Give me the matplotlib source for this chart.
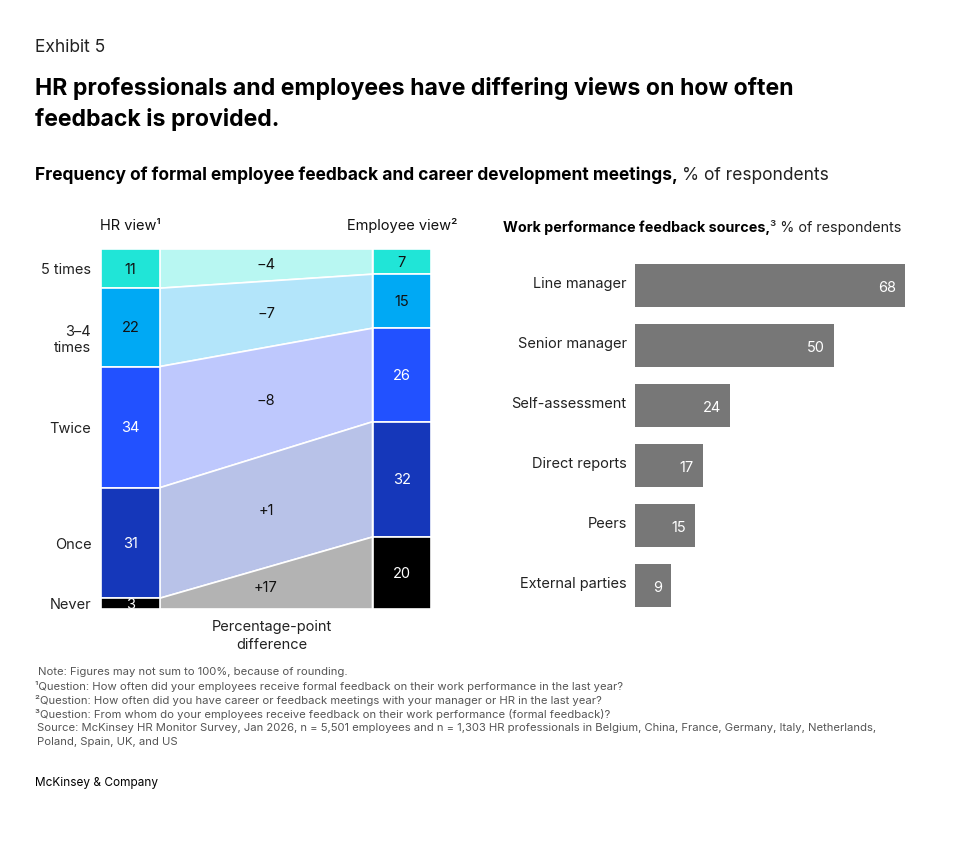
import numpy as np
import matplotlib.pyplot as plt
import matplotlib.transforms as mtransforms

plt.rcParams['font.family'] = ['Inter', 'DejaVu Sans']

# left chart data: frequency of feedback meetings
freq_labels = ["5 times", "3\u20134\ntimes", "Twice", "Once", "Never"]
hr_view = [11, 22, 34, 31, 3]
employee_view = [7, 15, 26, 32, 20]
pp_diff = ["\u22124", "\u22127", "\u22128", "+1", "+17"]

# right chart data: feedback sources
sources = ["Line manager", "Senior manager", "Self-assessment", "Direct reports", "Peers", "External parties"]
source_pct = [68, 50, 24, 17, 15, 9]

bar_colors = ["#20E5D7", "#00A9F4", "#2251FF", "#1537BA", "#000000"]
band_colors = ["#B8F7F2", "#B3E5FA", "#BEC8FD", "#B8C2E8", "#B3B3B3"]
value_colors = ["#111111", "#111111", "white", "white", "white"]

W, H = 980, 850
fig = plt.figure(figsize=(W / 100, H / 100), dpi=100)


def fx(x):
    return x / W


def fy(y):
    return 1 - y / H


def box(left, top, right, bottom):
    return [fx(left), fy(bottom), (right - left) / W, (bottom - top) / H]


# header
fig.text(fx(35), fy(47), "Exhibit 5", fontsize=12.5, color="#222222", va="center")
fig.text(fx(35), fy(104), "HR professionals and employees have differing views on how often\nfeedback is provided.",
         fontsize=16.6, fontweight="bold", va="center", linespacing=1.42, color="#000000")

renderer = fig.canvas.get_renderer()


def two_part(x, y, bold, normal, size, gap):
    t = fig.text(fx(x), fy(y), bold, fontsize=size, fontweight="bold", va="baseline")
    bb = t.get_window_extent(renderer)
    fig.text((bb.x1 + gap) / W, fy(y), normal, fontsize=size, va="baseline", color="#222222")


two_part(35, 180, "Frequency of formal employee feedback and career development meetings,", "% of respondents", 12.5, 4)
two_part(503, 232, "Work performance feedback sources,", "\u00b3 % of respondents", 10.3, 0)

# ---- left: HR vs employee stacked columns with bands
ax = fig.add_axes(box(101, 249, 431, 609))
hr = np.array(hr_view) / sum(hr_view) * 100
em = np.array(employee_view) / sum(employee_view) * 100
hr_top = np.concatenate([[0], np.cumsum(hr)[:-1]])
em_top = np.concatenate([[0], np.cumsum(em)[:-1]])
bw = 58.5
x_hr, x_em = bw / 2, 330 - bw / 2

for i in range(len(hr_view)):
    ax.fill([bw, 330 - bw, 330 - bw, bw],
            [hr_top[i], em_top[i], em_top[i] + em[i], hr_top[i] + hr[i]],
            color=band_colors[i], ec="white", lw=1.2)
    ym = (hr_top[i] + hr[i] / 2 + em_top[i] + em[i] / 2) / 2
    ax.text(165, ym, pp_diff[i], ha="center", va="center", fontsize=10.5, color="#111111")

ax.bar(x_hr, hr, bottom=hr_top, width=bw, color=bar_colors, ec="white", lw=1.2)
ax.bar(x_em, em, bottom=em_top, width=bw, color=bar_colors, ec="white", lw=1.2)
for i in range(len(hr_view)):
    ax.text(x_hr, hr_top[i] + hr[i] / 2 + 0.3, str(hr_view[i]), ha="center", va="center",
            fontsize=10.5, color=value_colors[i])
    ax.text(x_em, em_top[i] + em[i] / 2 + 0.3, str(employee_view[i]), ha="center", va="center",
            fontsize=10.5, color=value_colors[i])

ax.set_xlim(0, 330)
ax.set_ylim(100, 0)
ax.set_xticks([])
ax.set_yticks(hr_top + hr / 2)
ax.set_yticklabels(freq_labels, fontsize=10.5, color="#222222")
ax.tick_params(axis="y", length=0, pad=7)
# the two-line label sits a little lower in the original
lbl = ax.get_yticklabels()[1]
lbl.set_transform(lbl.get_transform() + mtransforms.ScaledTranslation(0, -7 / 72, fig.dpi_scale_trans))
for s in ax.spines.values():
    s.set_visible(False)

ax.text(x_hr, -6.5, "HR view\u00b9", ha="center", va="center", fontsize=10.5, color="#111111")
ax.text(x_em, -6.5, "Employee view\u00b2", ha="center", va="center", fontsize=10.5, color="#111111")
fig.text(fx(272), fy(636), "Percentage-point\ndifference", ha="center", va="center",
         fontsize=10.5, linespacing=1.35, color="#222222")

# ---- right: horizontal bars
ax2 = fig.add_axes(box(635, 255.5, 905, 615.5))
yy = np.arange(len(sources))
ax2.barh(yy, source_pct, height=0.72, color="#777777")
for i, v in enumerate(source_pct):
    ax2.annotate(str(v), (v, i), xytext=(-6.5, -1.8), textcoords="offset points",
                 ha="right", va="center", fontsize=10.5, color="white")
ax2.set_xlim(0, 68)
ax2.set_ylim(len(sources) - 0.5, -0.5)
ax2.set_xticks([])
ax2.set_yticks(yy)
ax2.set_yticklabels(sources, fontsize=10.5, color="#222222")
ax2.tick_params(axis="y", length=0, pad=6)
for lbl in ax2.get_yticklabels():
    lbl.set_transform(lbl.get_transform() + mtransforms.ScaledTranslation(0, 2 / 72, fig.dpi_scale_trans))
for s in ax2.spines.values():
    s.set_visible(False)

# ---- notes
notes = [
    (38, 672, "Note: Figures may not sum to 100%, because of rounding."),
    (35, 686, "\u00b9Question: How often did your employees receive formal feedback on their work performance in the last year?"),
    (35, 700, "\u00b2Question: How often did you have career or feedback meetings with your manager or HR in the last year?"),
    (35, 714, "\u00b3Question: From whom do your employees receive feedback on their work performance (formal feedback)?"),
    (37, 728, "Source: McKinsey HR Monitor Survey, Jan 2026, n = 5,501 employees and n = 1,303 HR professionals in Belgium, China, France, Germany, Italy, Netherlands,"),
    (37, 742, "Poland, Spain, UK, and US"),
]
for x, y, s in notes:
    fig.text(fx(x), fy(y), s, fontsize=8.1, color="#555555", va="center")

fig.text(fx(35), fy(783), "McKinsey & Company", fontsize=8.5, color="#000000", va="center")

fig.savefig("out.png", dpi=100)
